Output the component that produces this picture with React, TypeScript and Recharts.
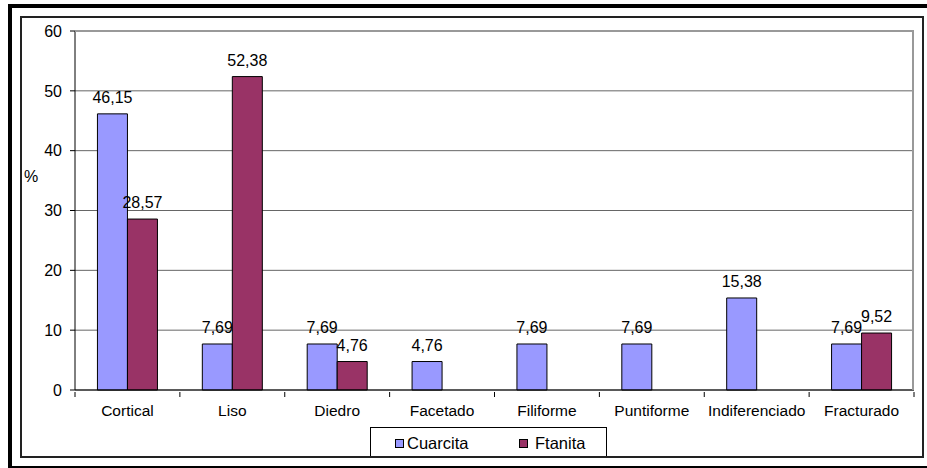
import { Bar, BarChart, CartesianGrid, LabelList, XAxis, YAxis } from "recharts";

const categories = [
  "Cortical",
  "Liso",
  "Diedro",
  "Facetado",
  "Filiforme",
  "Puntiforme",
  "Indiferenciado",
  "Fracturado",
];
const cuarcita = [46.15, 7.69, 7.69, 4.76, 7.69, 7.69, 15.38, 7.69];
const ftanita = [28.57, 52.38, 4.76, null, null, null, null, 9.52];
const yTicks = [0, 10, 20, 30, 40, 50, 60];
const seriesNames = ["Cuarcita", "Ftanita"];
const seriesColors = ["#9999FF", "#993366"];

const data = categories.map((name, i) => ({
  name,
  cuarcita: cuarcita[i],
  ftanita: ftanita[i],
}));

const FONT = "'Liberation Sans', Arial, sans-serif";
const PLOT_LEFT = 75;
const PLOT_RIGHT = 914;
const BAND = (PLOT_RIGHT - PLOT_LEFT) / categories.length;

const fmt = (v: number) => v.toFixed(2).replace(".", ",");

function CategoryTick(props: any) {
  const { x, y, payload, index } = props;
  const half = BAND / 2;
  return (
    <g>
      <line x1={x - half} x2={x - half} y1={y} y2={y + 5} stroke="#000" />
      {index === categories.length - 1 && (
        <line x1={x + half} x2={x + half} y1={y} y2={y + 5} stroke="#000" />
      )}
      <text x={x} y={y + 24} textAnchor="middle" fontSize={15.5} fill="#000" fontFamily={FONT}>
        {payload.value}
      </text>
    </g>
  );
}

function ValueLabel(props: any) {
  const { x, y, width, value } = props;
  if (value == null) return null;
  return (
    <text
      x={Number(x) + Number(width) / 2}
      y={Number(y) - 11}
      textAnchor="middle"
      fontSize={16}
      fill="#000"
      fontFamily={FONT}
    >
      {fmt(Number(value))}
    </text>
  );
}

const abs = (s: React.CSSProperties): React.CSSProperties => ({ position: "absolute", ...s });

export default function App() {
  return (
    <div style={abs({ left: 0, top: 0, width: 927, height: 468, background: "#fff", fontFamily: FONT, overflow: "hidden" })}>
      <BarChart
        width={927}
        height={468}
        data={data}
        margin={{ top: 31, right: 927 - PLOT_RIGHT, left: PLOT_LEFT - 60, bottom: 48 }}
        barCategoryGap="21.4%"
        barGap={0}
      >
        <CartesianGrid vertical={false} stroke="#666" />
        <XAxis
          dataKey="name"
          height={30}
          tickSize={0}
          tickLine={false}
          axisLine={{ stroke: "#000" }}
          tick={<CategoryTick />}
          interval={0}
        />
        <YAxis
          width={60}
          domain={[0, 60]}
          ticks={yTicks}
          interval={0}
          tickSize={5}
          tickMargin={8}
          axisLine={{ stroke: "#000" }}
          tickLine={{ stroke: "#000" }}
          tick={{ fontSize: 16, fill: "#000", fontFamily: FONT }}
        />
        <Bar dataKey="cuarcita" name={seriesNames[0]} fill={seriesColors[0]} stroke="#000" strokeWidth={1} isAnimationActive={false}>
          <LabelList dataKey="cuarcita" content={<ValueLabel />} />
        </Bar>
        <Bar dataKey="ftanita" name={seriesNames[1]} fill={seriesColors[1]} stroke="#000" strokeWidth={1} isAnimationActive={false}>
          <LabelList dataKey="ftanita" content={<ValueLabel />} />
        </Bar>
      </BarChart>

      {/* plot area border (grey, top and right) */}
      <div style={abs({ left: PLOT_LEFT, top: 30, width: PLOT_RIGHT - PLOT_LEFT, height: 360, borderTop: "2px solid #999", borderRight: "2px solid #999", boxSizing: "border-box", pointerEvents: "none" })} />

      <div style={abs({ left: 24, top: 168, fontSize: 16, lineHeight: "18px", color: "#000" })}>%</div>

      {/* legend */}
      <div style={abs({ left: 370, top: 427, width: 237, height: 30, border: "1px solid #000", boxSizing: "border-box", background: "#fff" })}>
        {seriesNames.map((n, i) => (
          <div key={n} style={abs({ left: i === 0 ? 24 : 148, top: 5, height: 20, display: "flex", alignItems: "center", gap: 2 })}>
            <span style={{ width: 9, height: 9, background: seriesColors[i], border: "1px solid #000", boxSizing: "border-box", display: "inline-block" }} />
            <span style={{ fontSize: 16.5, color: "#000", marginLeft: i === 0 ? 1 : 5 }}>{n}</span>
          </div>
        ))}
      </div>

      {/* frames */}
      <div style={abs({ left: 20, top: 16, width: 904, height: 442, border: "2px solid #222", boxSizing: "border-box", pointerEvents: "none" })} />
      <div style={abs({ left: 8, top: 4, width: 919, height: 4, background: "#000" })} />
      <div style={abs({ left: 8, top: 4, width: 4, height: 464, background: "#000" })} />
      <div style={abs({ left: 8, top: 466, width: 919, height: 2, background: "#000" })} />
    </div>
  );
}
